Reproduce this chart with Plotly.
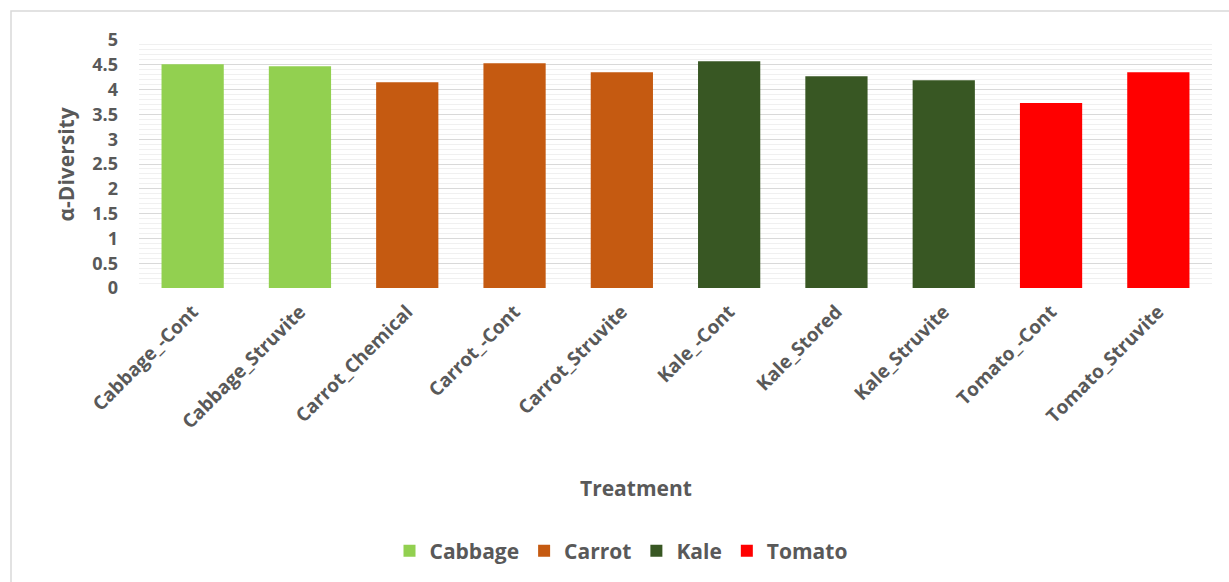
import plotly.graph_objects as go

# Treatment means of alpha diversity, grouped by crop
treatments = [
    "Cabbage_-Cont", "Cabbage_Struvite",
    "Carrot_Chemical", "Carrot_-Cont", "Carrot_Struvite",
    "Kale_-Cont", "Kale_Stored", "Kale_Struvite",
    "Tomato_-Cont", "Tomato_Struvite",
]
alpha_diversity = [4.51, 4.47, 4.15, 4.53, 4.35, 4.57, 4.27, 4.19, 3.73, 4.35]
crop_of_treatment = ["Cabbage", "Cabbage", "Carrot", "Carrot", "Carrot",
                     "Kale", "Kale", "Kale", "Tomato", "Tomato"]
crops = ["Cabbage", "Carrot", "Kale", "Tomato"]
crop_colors = ["#92d050", "#c55a11", "#385723", "#ff0000"]
y_ticks = [0, 0.5, 1, 1.5, 2, 2.5, 3, 3.5, 4, 4.5, 5]

FONT = "Open Sans"
TXT = "#595959"

fig = go.Figure()
for crop, color in zip(crops, crop_colors):
    xs = [t for t, c in zip(treatments, crop_of_treatment) if c == crop]
    ys = [v for v, c in zip(alpha_diversity, crop_of_treatment) if c == crop]
    fig.add_trace(go.Bar(
        x=xs, y=ys, name=crop,
        marker=dict(color=color, line=dict(width=0)),
    ))

W, H = 1229, 582
L, R, T, B = 139, 17, 40, 293
pw, ph = W - L - R, H - T - B


def px_x(px):
    return (px - L) / pw


def px_y(py):
    return (H - B - py) / ph


fig.update_layout(
    width=W, height=H,
    margin=dict(l=L, r=R, t=T, b=B),
    paper_bgcolor="white", plot_bgcolor="white",
    barmode="overlay", bargap=0.42,
    font=dict(family=FONT, color=TXT),
    showlegend=True,
    legend=dict(
        orientation="h", x=px_x(621), y=px_y(551),
        xanchor="center", yanchor="middle",
        font=dict(size=21, family=FONT, color=TXT, weight="bold"),
        itemwidth=30, traceorder="normal",
    ),
    xaxis=dict(
        categoryorder="array", categoryarray=treatments,
        tickangle=-45, showgrid=False, zeroline=False,
        showline=False, ticks="",
        tickfont=dict(size=19, family=FONT, color=TXT, weight="bold"),
        ticklabelstandoff=8,
    ),
    yaxis=dict(
        range=[0, 5], tickvals=y_ticks,
        ticktext=[f"{v:g}" for v in y_ticks],
        showgrid=True, gridcolor="#d9d9d9", gridwidth=1,
        minor=dict(dtick=0.1, showgrid=True, gridcolor="#f0f0f0", gridwidth=1),
        zeroline=False, showline=False, ticks="",
        tickfont=dict(size=18, family=FONT, color=TXT, weight="bold"),
        ticklabelstandoff=20,
    ),
    annotations=[
        dict(text="α-Diversity", x=px_x(66), y=px_y(165), xref="paper", yref="paper",
             textangle=-90, showarrow=False, xanchor="center", yanchor="middle",
             font=dict(size=21, family=FONT, color=TXT, weight="bold")),
        dict(text="Treatment", x=px_x(636), y=px_y(490), xref="paper", yref="paper",
             showarrow=False, xanchor="center", yanchor="middle",
             font=dict(size=21, family=FONT, color=TXT, weight="bold")),
    ],
    shapes=[
        dict(type="rect", xref="paper", yref="paper",
             x0=px_x(11), x1=px_x(W + 20), y0=px_y(H + 20), y1=px_y(11),
             line=dict(color="#d9d9d9", width=1.5), fillcolor="rgba(0,0,0,0)",
             layer="below"),
    ],
)

fig.write_html("out.html")
